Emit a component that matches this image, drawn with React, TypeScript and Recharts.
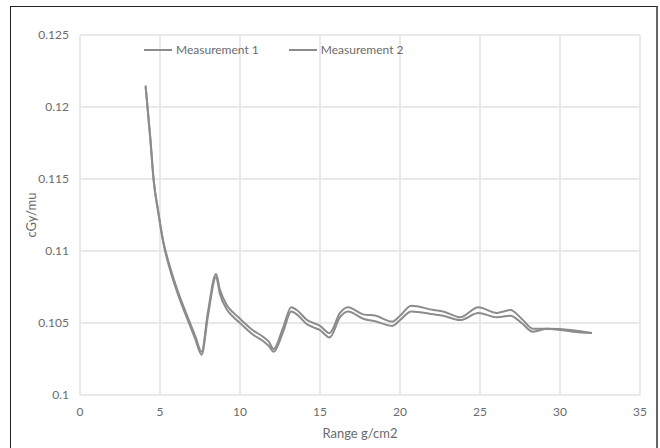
import { LineChart, Line, XAxis, YAxis, CartesianGrid, Legend, Label } from 'recharts';

// depth in g/cm2
const rangeX = [
  4.1, 4.4, 4.6, 4.9, 5.2, 5.6, 6.15, 6.7, 7.2, 7.6, 8.0, 8.5, 8.75, 9.2, 9.6, 10.0, 10.8, 11.5, 11.8, 12.1,
  12.7, 13.2, 13.55, 14.2, 14.6, 15.0, 15.6, 16.25, 16.75, 17.7, 18.5, 19.5, 20.0, 20.7, 22.1, 22.7, 23.75,
  24.9, 26.05, 26.9, 27.6, 28.3, 29.2, 30.8, 32.0,
];

const measurement1 = [
  0.1215, 0.1178, 0.115, 0.1127, 0.1107, 0.109, 0.1071, 0.1055, 0.1041, 0.103, 0.1058, 0.1084, 0.1073, 0.1062,
  0.1057, 0.1053, 0.1045, 0.104, 0.1037, 0.1032, 0.1047, 0.1061, 0.1059, 0.1052, 0.105, 0.1048, 0.1043, 0.1057,
  0.1061, 0.1056, 0.1055, 0.1051, 0.1055, 0.1062, 0.1059, 0.1058, 0.1054, 0.1061, 0.1057, 0.1059, 0.1053,
  0.1046, 0.1046, 0.1045, 0.1043,
];

const measurement2 = [
  0.1214, 0.1177, 0.1149, 0.1126, 0.1106, 0.1088, 0.1069, 0.1053, 0.1039, 0.1028, 0.1055, 0.1082, 0.107, 0.1059,
  0.1054, 0.105, 0.1042, 0.1037, 0.1034, 0.103, 0.1044, 0.1058, 0.1056, 0.1049, 0.1047, 0.1045, 0.104, 0.1054,
  0.1058, 0.1053, 0.1051, 0.1048, 0.1052, 0.1058, 0.1056, 0.1055, 0.1052, 0.1057, 0.1054, 0.1055, 0.105,
  0.1044, 0.1046, 0.1044, 0.1043,
];

const xTicks = [0, 5, 10, 15, 20, 25, 30, 35];
const yTicks = [0.1, 0.105, 0.11, 0.115, 0.12, 0.125];

const seriesNames = ['Measurement 1', 'Measurement 2'];

const data = rangeX.map((x, i) => ({ x, m1: measurement1[i], m2: measurement2[i] }));

const FONT = 'Lato, "Open Sans", sans-serif';
const TEXT = '#6b6b6b';
const LINE = '#8c8c8c';

const renderLegend = () => (
  <div style={{ display: 'flex', fontFamily: FONT, fontSize: 12, color: TEXT }}>
    {seriesNames.map((name, i) => (
      <div key={i} style={{ display: 'flex', alignItems: 'center', marginRight: i === 0 ? 30 : 0 }}>
        <span style={{ width: 28, height: 2, background: LINE, marginRight: 4, display: 'inline-block' }} />
        <span>{name}</span>
      </div>
    ))}
  </div>
);

export default function App() {
  return (
    <div style={{ position: 'absolute', left: 0, top: 0, width: 660, height: 448, background: '#fff', overflow: 'hidden' }}>
      <div
        style={{
          position: 'absolute',
          left: 10,
          top: 6,
          width: 645,
          height: 470,
          borderTop: '1px solid #222',
          borderLeft: '1px solid #222',
          borderRight: '2px solid #666',
        }}
      />
      <LineChart width={660} height={448} data={data} margin={{ top: 20, right: 20, left: 10, bottom: 0 }}>
        <CartesianGrid stroke="#e2e2e2" strokeWidth={1.5} />
        <XAxis
          dataKey="x"
          type="number"
          domain={[0, 35]}
          ticks={xTicks}
          height={53}
          axisLine={false}
          tickLine={false}
          tickSize={0}
          tickMargin={12}
          tick={{ fill: TEXT, fontSize: 12, fontFamily: FONT }}
        >
          <Label value="Range g/cm2" position="insideBottom" offset={10} fill={TEXT} fontSize={13} fontFamily={FONT} />
        </XAxis>
        <YAxis
          type="number"
          domain={[0.1, 0.125]}
          ticks={yTicks}
          width={70}
          axisLine={false}
          tickLine={false}
          tickSize={0}
          tickMargin={11}
          tick={{ fill: TEXT, fontSize: 12, fontFamily: FONT }}
        >
          <Label
            value="cGy/mu"
            angle={-90}
            position="insideLeft"
            offset={21}
            style={{ textAnchor: 'middle' }}
            fill={TEXT}
            fontSize={13}
            fontFamily={FONT}
          />
        </YAxis>
        <Legend
          verticalAlign="top"
          content={renderLegend}
          wrapperStyle={{ position: 'absolute', left: 144, top: 42, width: 320 }}
        />
        <Line dataKey="m1" name={seriesNames[0]} type="monotone" stroke={LINE} strokeWidth={2} dot={false} isAnimationActive={false} />
        <Line dataKey="m2" name={seriesNames[1]} type="monotone" stroke={LINE} strokeWidth={2} dot={false} isAnimationActive={false} />
      </LineChart>
    </div>
  );
}
